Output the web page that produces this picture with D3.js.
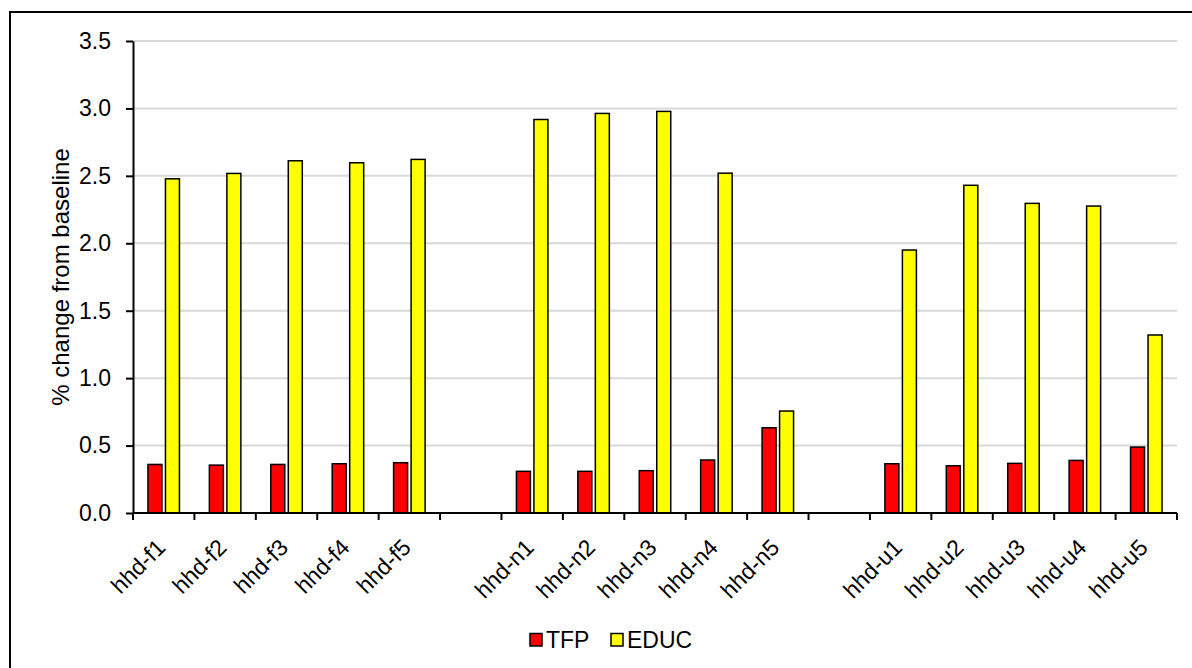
<!DOCTYPE html>
<html>
<head>
<meta charset="utf-8">
<script src="https://cdn.jsdelivr.net/npm/d3@7"></script>
<style>
  html, body { margin: 0; padding: 0; background: #fff; }
  svg { display: block; font-family: "Liberation Sans", Arial, sans-serif; }
</style>
</head>
<body>
<svg id="chart" width="1192" height="668"></svg>
<script>
// ---- data ----
const categories = ["hhd-f1","hhd-f2","hhd-f3","hhd-f4","hhd-f5","",
                    "hhd-n1","hhd-n2","hhd-n3","hhd-n4","hhd-n5","",
                    "hhd-u1","hhd-u2","hhd-u3","hhd-u4","hhd-u5"];
const seriesNames = ["TFP", "EDUC"];
const tfpValues  = [0.36, 0.355, 0.36, 0.365, 0.373, null,
                    0.309, 0.309, 0.314, 0.393, 0.632, null,
                    0.365, 0.35, 0.368, 0.39, 0.489];
const educValues = [2.478, 2.518, 2.612, 2.597, 2.622, null,
                    2.918, 2.963, 2.978, 2.52, 0.756, null,
                    1.95, 2.43, 2.296, 2.276, 1.32];
const yTicks = [0, 0.5, 1.0, 1.5, 2.0, 2.5, 3.0, 3.5];
const colors = ["#ff0000", "#ffff00"];

// ---- layout ----
const svg = d3.select("#chart");
const mLeft = 133, mRight = 1177, mTop = 41, mBottom = 513;
const FONT = 23;

// outer border (extends beyond the canvas on right/bottom)
svg.append("rect")
  .attr("x", 10).attr("y", 12)
  .attr("width", 1220).attr("height", 700)
  .attr("fill", "none").attr("stroke", "#000").attr("stroke-width", 2);

const idx = d3.range(categories.length);
const x = d3.scaleBand().domain(idx).range([mLeft, mRight]).padding(0);
const barW = 14, gap = 3.5;
const groupW = barW * 2 + gap;
const xs = d3.scaleBand().domain(seriesNames)
  .range([(x.bandwidth() - groupW) / 2, (x.bandwidth() + groupW) / 2])
  .paddingInner(gap / (barW + gap)).paddingOuter(0);

const y = d3.scaleLinear().domain([0, 3.5]).range([mBottom, mTop]);

// gridlines
svg.append("g").selectAll("line")
  .data(yTicks.filter(d => d > 0))
  .join("line")
  .attr("x1", mLeft).attr("x2", mRight)
  .attr("y1", d => y(d)).attr("y2", d => y(d))
  .attr("stroke", "#d9d9d9").attr("stroke-width", 2);

// bars
const series = [tfpValues, educValues];
series.forEach((vals, si) => {
  svg.append("g").selectAll("rect")
    .data(idx.filter(i => vals[i] != null))
    .join("rect")
    .attr("x", i => x(i) + xs(seriesNames[si]))
    .attr("y", i => y(vals[i]))
    .attr("width", xs.bandwidth())
    .attr("height", i => y(0) - y(vals[i]))
    .attr("fill", colors[si])
    .attr("stroke", "#000").attr("stroke-width", 1.5);
});

// y axis
const yAxis = svg.append("g")
  .attr("transform", `translate(${mLeft},0)`)
  .call(d3.axisLeft(y).tickValues(yTicks).tickFormat(d3.format(".1f"))
        .tickSize(7).tickPadding(15).tickSizeOuter(0));
yAxis.select(".domain").attr("stroke", "#000").attr("stroke-width", 2);
yAxis.selectAll(".tick line").attr("stroke", "#000").attr("stroke-width", 2);
yAxis.selectAll(".tick text").attr("font-size", FONT).attr("fill", "#000")
  .attr("font-family", "Liberation Sans, Arial, sans-serif");

// x axis with ticks at category boundaries
const xAxisG = svg.append("g").attr("transform", `translate(0,${mBottom})`);
xAxisG.append("line").attr("x1", mLeft).attr("x2", mRight)
  .attr("y1", 0).attr("y2", 0).attr("stroke", "#000").attr("stroke-width", 2);
const boundaries = idx.map(i => x(i)).concat([mRight]);
xAxisG.selectAll("line.tk").data(boundaries).join("line")
  .attr("class", "tk")
  .attr("x1", d => d).attr("x2", d => d).attr("y1", 0).attr("y2", 7)
  .attr("stroke", "#000").attr("stroke-width", 2);
xAxisG.selectAll("text").data(idx.filter(i => categories[i] !== "")).join("text")
  .attr("transform", i => `translate(${x(i) + x.bandwidth() / 2 + 3},36) rotate(-45)`)
  .attr("text-anchor", "end")
  .attr("font-size", FONT).attr("fill", "#000")
  .text(i => categories[i]);

// y axis title
svg.append("text")
  .attr("transform", `translate(60,${(mTop + mBottom) / 2}) rotate(-90)`)
  .attr("text-anchor", "middle").attr("dominant-baseline", "central")
  .attr("font-size", 24).attr("fill", "#000")
  .text("% change from baseline");

// legend
const legendItems = [
  { name: seriesNames[0], color: colors[0], x: 530 },
  { name: seriesNames[1], color: colors[1], x: 611 }
];
const lg = svg.append("g");
legendItems.forEach(it => {
  lg.append("rect").attr("x", it.x).attr("y", 633.5).attr("width", 12).attr("height", 12.5)
    .attr("fill", it.color).attr("stroke", "#000").attr("stroke-width", 1.5);
  lg.append("text").attr("x", it.x + 16).attr("y", 648)
    .attr("font-size", FONT).attr("fill", "#000").text(it.name);
});
</script>
</body>
</html>
